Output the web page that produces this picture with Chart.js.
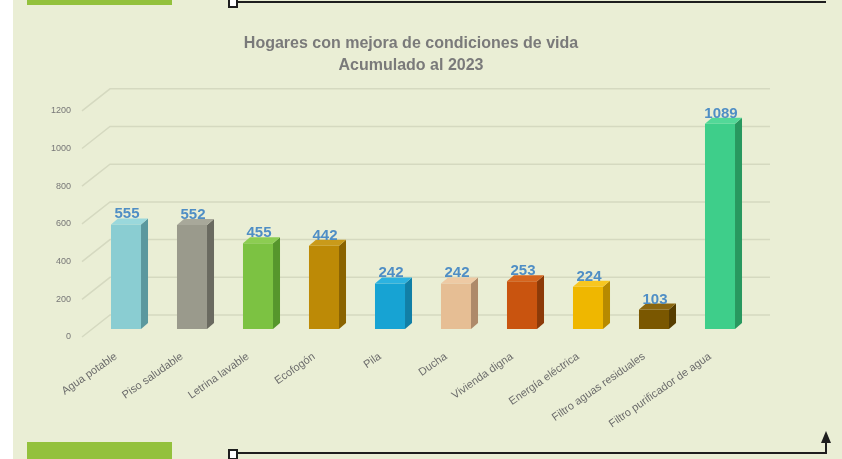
<!DOCTYPE html>
<html>
<head>
<meta charset="utf-8">
<script src="https://cdn.jsdelivr.net/npm/chart.js@4"></script>
<style>
  body { margin: 0; background: #fff; }
  #page { position: relative; width: 842px; height: 459px; overflow: hidden; background: #fff; }
  #panel { position: absolute; left: 13px; top: 0; width: 829px; height: 459px; background: #eaeed5; }
  .green { position: absolute; left: 27px; width: 145px; background: #93c13c; }
  .hline { position: absolute; height: 2px; background: #1e1e1e; }
  .sq { position: absolute; width: 6px; height: 7px; border: 2px solid #1e1e1e; background: #fff; box-sizing: content-box; }
  canvas { position: absolute; left: 0; top: 0; }
</style>
</head>
<body>
<div id="page">
  <div id="panel"></div>
  <div class="green" style="top:0;height:5px"></div>
  <div class="green" style="top:442px;height:17px"></div>
  <div class="hline" style="left:234px;top:1px;width:592px"></div>
  <div class="sq" style="left:228px;top:-3px"></div>
  <div class="hline" style="left:234px;top:452px;width:593px"></div>
  <div class="sq" style="left:228px;top:449px"></div>
  <div style="position:absolute;left:825px;top:440px;width:2px;height:14px;background:#1e1e1e"></div>
  <div style="position:absolute;left:821px;top:431px;width:0;height:0;border-left:5px solid transparent;border-right:5px solid transparent;border-bottom:12px solid #1e1e1e"></div>
  <canvas id="chart" width="842" height="459"></canvas>
</div>
<script>
const categories = ['Agua potable', 'Piso saludable', 'Letrina lavable', 'Ecofogón', 'Pila', 'Ducha',
  'Vivienda digna', 'Energía eléctrica', 'Filtro aguas residuales', 'Filtro purificador de agua'];
const hogares = [555, 552, 455, 442, 242, 242, 253, 224, 103, 1089];
const yTicks = [0, 200, 400, 600, 800, 1000, 1200];

const frontColors = ['#8acdd2', '#9a9a8c', '#7cc242', '#bd8a06', '#17a3d3', '#e6be94', '#c9540f', '#efb700', '#7a5700', '#3ece8a'];
const sideColors  = ['#5b989e', '#6a6a60', '#56962c', '#8a6300', '#117fa6', '#ae8a6a', '#8c3a08', '#b78a00', '#563d00', '#28985f'];
const topColors   = ['#9ad8dc', '#a8a89a', '#8ccd52', '#c99a1a', '#2cb2e0', '#eecaa4', '#d5651f', '#f7c620', '#8a6610', '#52d898'];

const DX = 7, DY = 6;

const wall3d = {
  id: 'wall3d',
  beforeDatasetsDraw(chart) {
    const {ctx, chartArea, scales} = chart;
    ctx.save();
    ctx.strokeStyle = '#d5d9c0';
    ctx.lineWidth = 1.5;
    yTicks.forEach(v => {
      const y = scales.y.getPixelForValue(v);
      ctx.beginPath();
      ctx.moveTo(chartArea.left - 11, y + 8);
      ctx.lineTo(chartArea.left + 17, y - 14);
      ctx.lineTo(chartArea.right + 17, y - 14);
      ctx.stroke();
    });
    ctx.restore();
  },
  afterDatasetsDraw(chart) {
    const {ctx} = chart;
    const meta = chart.getDatasetMeta(0);
    ctx.save();
    meta.data.forEach((bar, i) => {
      const half = bar.width / 2;
      const l = bar.x - half, r = bar.x + half, t = bar.y, b = bar.base;
      ctx.fillStyle = sideColors[i];
      ctx.beginPath();
      ctx.moveTo(r, b); ctx.lineTo(r + DX, b - DY); ctx.lineTo(r + DX, t - DY); ctx.lineTo(r, t);
      ctx.closePath(); ctx.fill();
      ctx.fillStyle = topColors[i];
      ctx.beginPath();
      ctx.moveTo(l, t); ctx.lineTo(l + DX, t - DY); ctx.lineTo(r + DX, t - DY); ctx.lineTo(r, t);
      ctx.closePath(); ctx.fill();
      ctx.fillStyle = '#4f8ec5';
      ctx.font = 'bold 15px "Liberation Sans", sans-serif';
      ctx.textAlign = 'center';
      ctx.textBaseline = 'alphabetic';
      ctx.fillText(String(hogares[i]), bar.x + 1, t - DY);
    });
    ctx.restore();
  }
};

new Chart(document.getElementById('chart'), {
  type: 'bar',
  data: {
    labels: categories,
    datasets: [{
      data: hogares,
      backgroundColor: frontColors,
      borderWidth: 0,
      barPercentage: 0.91,
      categoryPercentage: 0.5
    }]
  },
  options: {
    responsive: false,
    devicePixelRatio: 1,
    animation: false,
    layout: { padding: { left: 48, right: 68, top: 0, bottom: 0 } },
    plugins: {
      legend: { display: false },
      tooltip: { enabled: false },
      title: {
        display: true,
        text: ['Hogares con mejora de condiciones de vida', 'Acumulado al 2023'],
        color: '#7a7a7a',
        font: { family: '"Liberation Sans", sans-serif', size: 16, weight: 'bold', lineHeight: 1.4 },
        padding: { top: 32, bottom: 26 }
      }
    },
    scales: {
      x: {
        afterFit(scale) { scale.height = 130; },
        grid: { display: false, drawTicks: false },
        border: { display: false },
        ticks: {
          color: '#6b6b6b',
          font: { family: '"Liberation Sans", sans-serif', size: 11 },
          minRotation: 35,
          maxRotation: 35,
          padding: 21,
          labelOffset: -10,
          autoSkip: false
        }
      },
      y: {
        min: 0,
        max: 1200,
        afterFit(scale) { scale.width = 45; },
        grid: { display: false, drawTicks: false },
        border: { display: false },
        ticks: {
          stepSize: 200,
          color: '#777',
          font: { family: '"Liberation Sans", sans-serif', size: 9 },
          padding: 22,
          labelOffset: 8,
          callback: v => String(v)
        }
      },
      y2: {
        position: 'right',
        min: 0,
        max: 1200,
        afterFit(scale) { scale.width = 21; },
        grid: { display: false, drawTicks: false },
        border: { display: false },
        ticks: { display: false }
      }
    }
  },
  plugins: [wall3d]
});
</script>
</body>
</html>
